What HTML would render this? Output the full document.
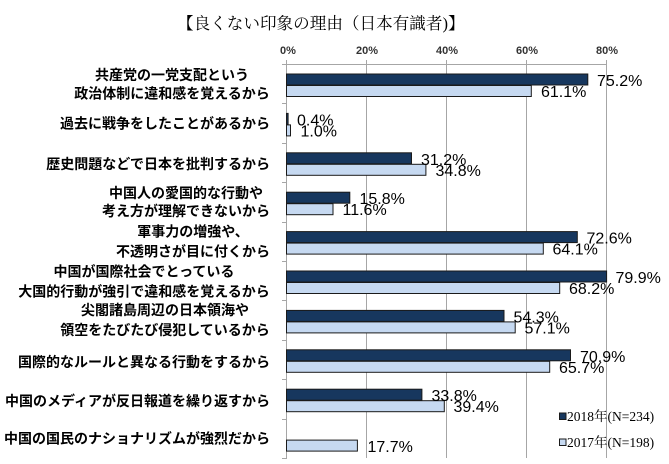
<!DOCTYPE html>
<html><head><meta charset="utf-8"><style>
html,body{margin:0;padding:0;background:#fff;}
svg{display:block;}
.cat{font-family:"Liberation Sans","Noto Sans CJK JP",sans-serif;font-size:14px;font-weight:bold;fill:#000;}
.val{font-family:"Liberation Sans",sans-serif;font-size:16px;fill:#000;}
.tick{font-family:"Liberation Sans",sans-serif;font-size:11px;font-weight:bold;fill:#333;}
.leg{font-family:"Liberation Serif","Noto Serif CJK SC",serif;font-size:13.5px;fill:#000;}
.title{font-family:"Liberation Serif","Noto Serif CJK SC",serif;font-size:16.6px;fill:#000;}
</style></head><body>
<svg width="669" height="464" viewBox="0 0 669 464" xmlns="http://www.w3.org/2000/svg">
<rect width="669" height="464" fill="#fff"/>
<text class="title" x="177" y="29">【良くない印象の理由（日本有識者)】</text>
<!-- tick labels -->
<text class="tick" x="288" y="54" text-anchor="middle">0%</text>
<text class="tick" x="367" y="54" text-anchor="middle">20%</text>
<text class="tick" x="447" y="54" text-anchor="middle">40%</text>
<text class="tick" x="527" y="54" text-anchor="middle">60%</text>
<text class="tick" x="607" y="54" text-anchor="middle">80%</text>
<!-- grid -->
<g stroke="#a6a6a6" stroke-width="1">
<line x1="366.5" y1="60" x2="366.5" y2="458"/>
<line x1="446.5" y1="60" x2="446.5" y2="458"/>
<line x1="526.5" y1="60" x2="526.5" y2="458"/>
<line x1="606.5" y1="60" x2="606.5" y2="458"/>
<line x1="286" y1="64.5" x2="607" y2="64.5"/>
<line x1="286.5" y1="60" x2="286.5" y2="459"/>
<line x1="282" y1="64.5" x2="286" y2="64.5"/>
<line x1="282" y1="103.5" x2="286" y2="103.5"/>
<line x1="282" y1="143.5" x2="286" y2="143.5"/>
<line x1="282" y1="182.5" x2="286" y2="182.5"/>
<line x1="282" y1="222.5" x2="286" y2="222.5"/>
<line x1="282" y1="261.5" x2="286" y2="261.5"/>
<line x1="282" y1="300.5" x2="286" y2="300.5"/>
<line x1="282" y1="340.5" x2="286" y2="340.5"/>
<line x1="282" y1="379.5" x2="286" y2="379.5"/>
<line x1="282" y1="419.5" x2="286" y2="419.5"/>
<line x1="282" y1="458.5" x2="286" y2="458.5"/>
</g>
<!-- bars -->
<g stroke="#1a1a1a" stroke-width="1">
<rect x="286.5" y="74" width="301.3" height="11" fill="#17375e"/>
<rect x="286.5" y="85.5" width="244.8" height="11" fill="#c6d9f1"/>
<rect x="286.5" y="113.4" width="1.6" height="11" fill="#17375e"/>
<rect x="286.5" y="124.9" width="4.0" height="11" fill="#c6d9f1"/>
<rect x="286.5" y="152.8" width="125.0" height="11" fill="#17375e"/>
<rect x="286.5" y="164.3" width="139.4" height="11" fill="#c6d9f1"/>
<rect x="286.5" y="192.2" width="63.3" height="11" fill="#17375e"/>
<rect x="286.5" y="203.7" width="46.5" height="11" fill="#c6d9f1"/>
<rect x="286.5" y="231.6" width="290.8" height="11" fill="#17375e"/>
<rect x="286.5" y="243.1" width="256.8" height="11" fill="#c6d9f1"/>
<rect x="286.5" y="271" width="320.1" height="11" fill="#17375e"/>
<rect x="286.5" y="282.5" width="273.2" height="11" fill="#c6d9f1"/>
<rect x="286.5" y="310.4" width="217.5" height="11" fill="#17375e"/>
<rect x="286.5" y="321.9" width="228.7" height="11" fill="#c6d9f1"/>
<rect x="286.5" y="349.8" width="284.0" height="11" fill="#17375e"/>
<rect x="286.5" y="361.3" width="263.2" height="11" fill="#c6d9f1"/>
<rect x="286.5" y="389.2" width="135.4" height="11" fill="#17375e"/>
<rect x="286.5" y="400.7" width="157.8" height="11" fill="#c6d9f1"/>
<rect x="286.5" y="440.1" width="70.9" height="11" fill="#c6d9f1"/>
</g>
<!-- value labels -->
<text class="val" x="597" y="86">75.2%</text>
<text class="val" x="541" y="97">61.1%</text>
<text class="val" x="297" y="125.4">0.4%</text>
<text class="val" x="300.5" y="136.4">1.0%</text>
<text class="val" x="421" y="164.8">31.2%</text>
<text class="val" x="435.5" y="175.8">34.8%</text>
<text class="val" x="359.5" y="204.2">15.8%</text>
<text class="val" x="342.5" y="215.2">11.6%</text>
<text class="val" x="586.5" y="243.6">72.6%</text>
<text class="val" x="552.5" y="254.6">64.1%</text>
<text class="val" x="615.5" y="283">79.9%</text>
<text class="val" x="569" y="294">68.2%</text>
<text class="val" x="513.5" y="322.4">54.3%</text>
<text class="val" x="524.5" y="333.4">57.1%</text>
<text class="val" x="580" y="361.8">70.9%</text>
<text class="val" x="559" y="372.8">65.7%</text>
<text class="val" x="431.5" y="401.2">33.8%</text>
<text class="val" x="453.5" y="412.2">39.4%</text>
<text class="val" x="367.5" y="452">17.7%</text>
<!-- category labels -->
<g class="cat" dominant-baseline="central">
<text x="172" y="75" text-anchor="middle">共産党の一党支配という</text>
<text x="172" y="93.5" text-anchor="middle">政治体制に違和感を覚えるから</text>
<text x="270" y="123.5" text-anchor="end">過去に戦争をしたことがあるから</text>
<text x="270" y="164" text-anchor="end">歴史問題などで日本を批判するから</text>
<text x="186" y="193" text-anchor="middle">中国人の愛国的な行動や</text>
<text x="186" y="211" text-anchor="middle">考え方が理解できないから</text>
<text x="193" y="231.7" text-anchor="middle">軍事力の増強や、</text>
<text x="193" y="251.7" text-anchor="middle">不透明さが目に付くから</text>
<text x="144" y="271.7" text-anchor="middle">中国が国際社会でとっている</text>
<text x="144" y="291.7" text-anchor="middle">大国的行動が強引で違和感を覚えるから</text>
<text x="165" y="310" text-anchor="middle">尖閣諸島周辺の日本領海や</text>
<text x="165" y="330" text-anchor="middle">領空をたびたび侵犯しているから</text>
<text x="270" y="362" text-anchor="end">国際的なルールと異なる行動をするから</text>
<text x="270" y="401" text-anchor="end">中国のメディアが反日報道を繰り返すから</text>
<text x="270" y="438.5" text-anchor="end">中国の国民のナショナリズムが強烈だから</text>
</g>
<!-- legend -->
<rect x="559.5" y="413" width="6.5" height="6.5" fill="#17375e" stroke="#1a1a1a" stroke-width="1"/>
<text class="leg" x="567" y="421">2018年(N=234)</text>
<rect x="559.5" y="439" width="6.5" height="6.5" fill="#c6d9f1" stroke="#1a1a1a" stroke-width="1"/>
<text class="leg" x="567" y="447">2017年(N=198)</text>
</svg>
</body></html>
